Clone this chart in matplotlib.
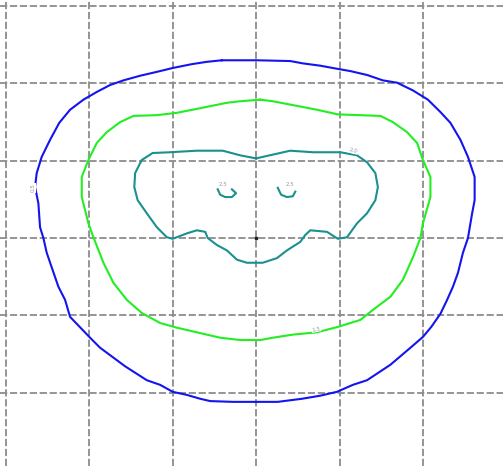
import matplotlib
matplotlib.use("Agg")
import matplotlib.pyplot as plt

# contour lines, in grid-cell units (centre = 0, 0)
blue_x = [-0.41, 0.01, 0.41, 0.56, 0.77, 0.92, 1.13, 1.33, 1.52, 1.69, 1.88, 2.06, 2.21, 2.33, 2.45, 2.54,
          2.62, 2.62, 2.59, 2.54, 2.48, 2.42, 2.36, 2.29, 2.21, 2.10, 2.00, 1.85, 1.61, 1.33, 1.16, 0.97,
          0.77, 0.55, 0.26, -0.28, -0.55, -0.67, -0.83, -1.00, -1.15, -1.31, -1.57, -1.87, -1.99, -2.23,
          -2.29, -2.37, -2.45, -2.51, -2.55, -2.59, -2.61, -2.65, -2.63, -2.57, -2.47, -2.36, -2.23, -2.07,
          -1.91, -1.75, -1.59, -1.39, -1.19, -1.00, -0.77, -0.59, -0.41]
blue_y = [2.30, 2.30, 2.29, 2.26, 2.23, 2.20, 2.16, 2.11, 2.04, 2.01, 1.91, 1.79, 1.63, 1.49, 1.27, 1.05,
          0.79, 0.49, 0.32, 0.0, -0.19, -0.45, -0.63, -0.80, -0.98, -1.15, -1.28, -1.42, -1.64, -1.84, -1.90,
          -1.99, -2.04, -2.08, -2.12, -2.12, -2.11, -2.08, -2.03, -1.99, -1.90, -1.84, -1.66, -1.42, -1.29,
          -1.02, -0.80, -0.63, -0.38, -0.19, 0.0, 0.14, 0.45, 0.66, 0.84, 1.05, 1.27, 1.49, 1.66, 1.79, 1.89,
          1.98, 2.04, 2.10, 2.15, 2.20, 2.25, 2.28, 2.30]

green_x = [0.05, 0.20, 0.44, 0.73, 0.98, 1.49, 1.64, 1.81, 1.93, 2.00, 2.09, 2.09, 2.00, 1.97, 1.88, 1.76,
           1.61, 1.40, 1.25, 0.98, 0.73, 0.44, 0.20, 0.05, -0.19, -0.43, -0.67, -0.95, -1.15, -1.37, -1.55,
           -1.71, -1.83, -1.95, -2.01, -2.09, -2.09, -2.01, -1.91, -1.79, -1.63, -1.47, -1.19, -0.95, -0.67,
           -0.35, -0.19, 0.05]
green_y = [1.79, 1.77, 1.72, 1.66, 1.60, 1.58, 1.50, 1.37, 1.23, 1.01, 0.79, 0.53, 0.19, 0.0, -0.25, -0.54,
           -0.76, -0.93, -1.06, -1.15, -1.22, -1.25, -1.29, -1.32, -1.32, -1.29, -1.23, -1.16, -1.10, -0.97,
           -0.80, -0.58, -0.32, 0.01, 0.19, 0.53, 0.79, 1.01, 1.23, 1.37, 1.50, 1.58, 1.59, 1.62, 1.68, 1.75,
           1.77, 1.79]

teal_x = [0.0, 0.08, 0.41, 0.68, 1.01, 1.21, 1.33, 1.43, 1.46, 1.43, 1.33, 1.21, 1.09, 0.98, 0.85, 0.65,
          0.59, 0.53, 0.37, 0.25, 0.08, -0.11, -0.23, -0.35, -0.47, -0.58, -0.61, -0.71, -0.83, -1.00, -1.07,
          -1.19, -1.31, -1.42, -1.46, -1.45, -1.37, -1.24, -1.03, -0.71, -0.40, -0.19, 0.0]
teal_y = [1.03, 1.05, 1.13, 1.11, 1.11, 1.07, 0.98, 0.84, 0.66, 0.49, 0.32, 0.19, 0.01, -0.01, 0.08, 0.10,
          0.04, -0.05, -0.16, -0.26, -0.32, -0.32, -0.28, -0.16, -0.09, 0.0, 0.08, 0.10, 0.06, -0.01, 0.01,
          0.14, 0.32, 0.49, 0.66, 0.84, 1.01, 1.10, 1.11, 1.13, 1.13, 1.07, 1.03]

island_l_x = [-0.46, -0.43, -0.37, -0.29, -0.24, -0.29]
island_l_y = [0.63, 0.56, 0.53, 0.53, 0.58, 0.63]
island_r_x = [0.26, 0.30, 0.37, 0.44, 0.47]
island_r_y = [0.65, 0.56, 0.53, 0.54, 0.60]

# contour labels: (text, x, y, rotation)
labels = [("0.5", -2.67, 0.65, 90), ("1.5", 0.72, -1.18, 12), ("2.0", 1.16, 1.13, -15),
          ("2.5", -0.40, 0.69, 0), ("2.5", 0.41, 0.69, 0)]

fig = plt.figure(figsize=(5.03, 4.66), dpi=100)
ax = fig.add_axes([0, 0, 1, 1])

ax.plot(blue_x, blue_y, color="#1414f0", lw=1.5)
ax.plot(green_x, green_y, color="#22ee22", lw=1.5)
ax.plot(teal_x, teal_y, color="#1a9090", lw=1.5)
ax.plot(island_l_x, island_l_y, color="#1a9090", lw=1.5)
ax.plot(island_r_x, island_r_y, color="#1a9090", lw=1.5)
ax.plot([0], [0], marker="s", ms=2, color="#222222")

for txt, x, y, rot in labels:
    ax.text(x, y, txt, fontsize=4, color="#999999", ha="center", va="center", rotation=rot,
            bbox=dict(facecolor="white", edgecolor="none", pad=0.3))

ax.set_xlim(-3.07, 2.96)
ax.set_ylim(-2.95, 3.08)
ax.set_xticks(range(-3, 3))
ax.set_yticks(range(-2, 4))
ax.tick_params(length=0, labelbottom=False, labelleft=False)
ax.grid(True, color="#8c8c8c", lw=1.3, linestyle=(0, (4, 1.5)))
ax.set_axisbelow(True)
for s in ax.spines.values():
    s.set_visible(False)

fig.savefig("out.png", dpi=100, facecolor="white")
